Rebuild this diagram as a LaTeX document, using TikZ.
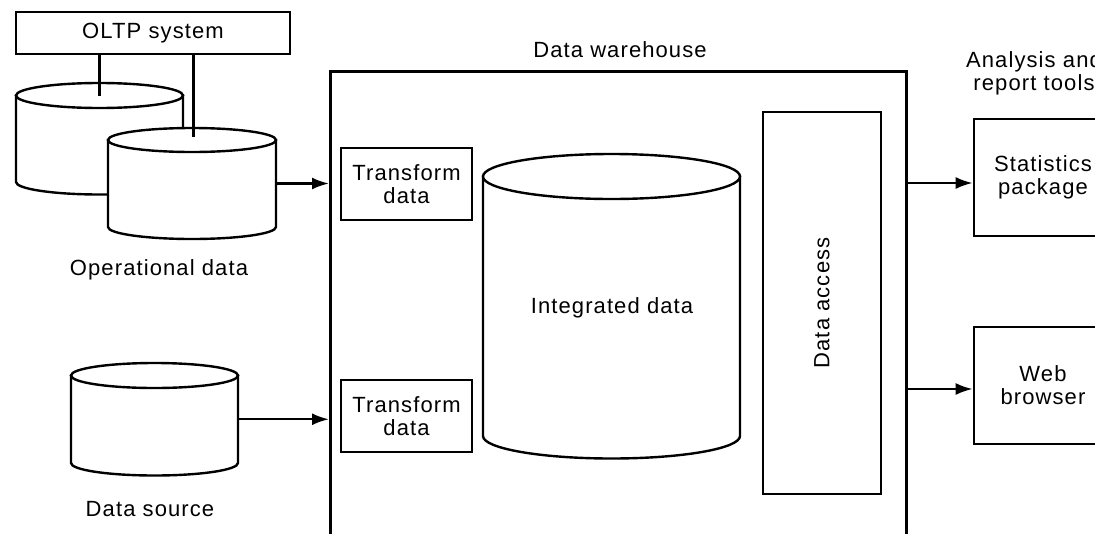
\documentclass[tikz,border=0pt]{standalone}
\usepackage{fontspec}
\setmainfont{Liberation Sans}[LetterSpace=5]
\usetikzlibrary{arrows.meta}

\begin{document}
\begin{tikzpicture}[x=1pt, y=1pt, every node/.style={font=\fontsize{22}{23}\selectfont, align=center},
	line width=2.4pt, >={Latex[length=17pt, width=12pt]},
	box/.style={draw, line width=2.6pt, fill=white, inner sep=0pt},
	dbspace/.style={inner sep=0pt}]
	\useasboundingbox (0,0) rectangle (1095,-533);
	\clip (0,0) rectangle (1095,-533);
	% the OLTP system and its two databases
	\node[box, minimum width=274pt, minimum height=42pt] (oltp) at (153,-33) {OLTP system};
	\draw[fill=white] (16,-95.5) -- (16,-182) arc[start angle=180, end angle=360, x radius=83.5, y radius=12.5] -- (183,-95.5) -- cycle;
	\draw[fill=white] (99.5,-95.5) ellipse[x radius=83.5, y radius=12.5];
	\coordinate (opsbacktop) at (99.5,-95.5);
	\draw[fill=white] (108,-140) -- (108,-227) arc[start angle=180, end angle=360, x radius=84, y radius=12] -- (276,-140) -- cycle;
	\draw[fill=white] (192,-140) ellipse[x radius=84, y radius=12];
	\coordinate (opsfronttop) at (193.5,-137);
	\node[dbspace, minimum width=168pt, minimum height=87pt] (opsdb) at (192,-183.5) {};
	\draw (oltp.south -| opsbacktop) -- (opsbacktop);
	\draw (oltp.south -| opsfronttop) -- (opsfronttop);
	\node[anchor=base] (opslabel) at (159,-275) {Operational data};
	% the other data source
	\draw[fill=white] (71,-375.5) -- (71,-463) arc[start angle=180, end angle=360, x radius=83.5, y radius=12.5] -- (238,-375.5) -- cycle;
	\draw[fill=white] (154.5,-375.5) ellipse[x radius=83.5, y radius=12.5];
	\node[dbspace, minimum width=167pt, minimum height=87.5pt] (srcdb) at (154.5,-419.25) {};
	\node[anchor=base] (srclabel) at (150,-516) {Data source};
	% the data warehouse
	\node[box, fill=none, minimum width=576pt, minimum height=500pt, anchor=north west] (dwh) at (329,-70) {};
	\node[anchor=base] (dwhlabel) at (620,-57) {Data warehouse};
	\node[box, minimum width=131pt, minimum height=72pt] (trans1) at (406.5,-184) {Transform\\data};
	\node[box, minimum width=131pt, minimum height=72pt] (trans2) at (406.5,-416) {Transform\\data};
	\draw[fill=white] (483,-176.5) -- (483,-436) arc[start angle=180, end angle=360, x radius=128.5, y radius=22.5] -- (740,-176.5) -- cycle;
	\draw[fill=white] (611.5,-176.5) ellipse[x radius=128.5, y radius=22.5];
	\node[dbspace] (intdb) at (612,-308) {Integrated data};
	\node[box, rotate=90, minimum width=382pt, minimum height=118pt] (dacc) at (822,-303) {Data access};
	% the analysis and report tools
	\node[anchor=base] (toolslabel) at (1034,-90) {Analysis and\\report tools};
	\node[box, minimum width=138pt, minimum height=117pt] (stats) at (1043,-177.5) {Statistics\\package};
	\node[box, minimum width=138pt, minimum height=117pt] (web) at (1043,-385.5) {Web\\browser};
	% the flows
	\coordinate (statsin) at ([yshift=-5.5pt]stats.west);
	\coordinate (webin) at ([yshift=-3.5pt]web.west);
	\draw[->] (opsdb.east) -- (opsdb.east -| dwh.west);
	\draw[->] (srcdb.east) -- (srcdb.east -| dwh.west);
	\draw[->] (statsin -| dwh.east) -- (statsin);
	\draw[->] (webin -| dwh.east) -- (webin);
\end{tikzpicture}
\end{document}
